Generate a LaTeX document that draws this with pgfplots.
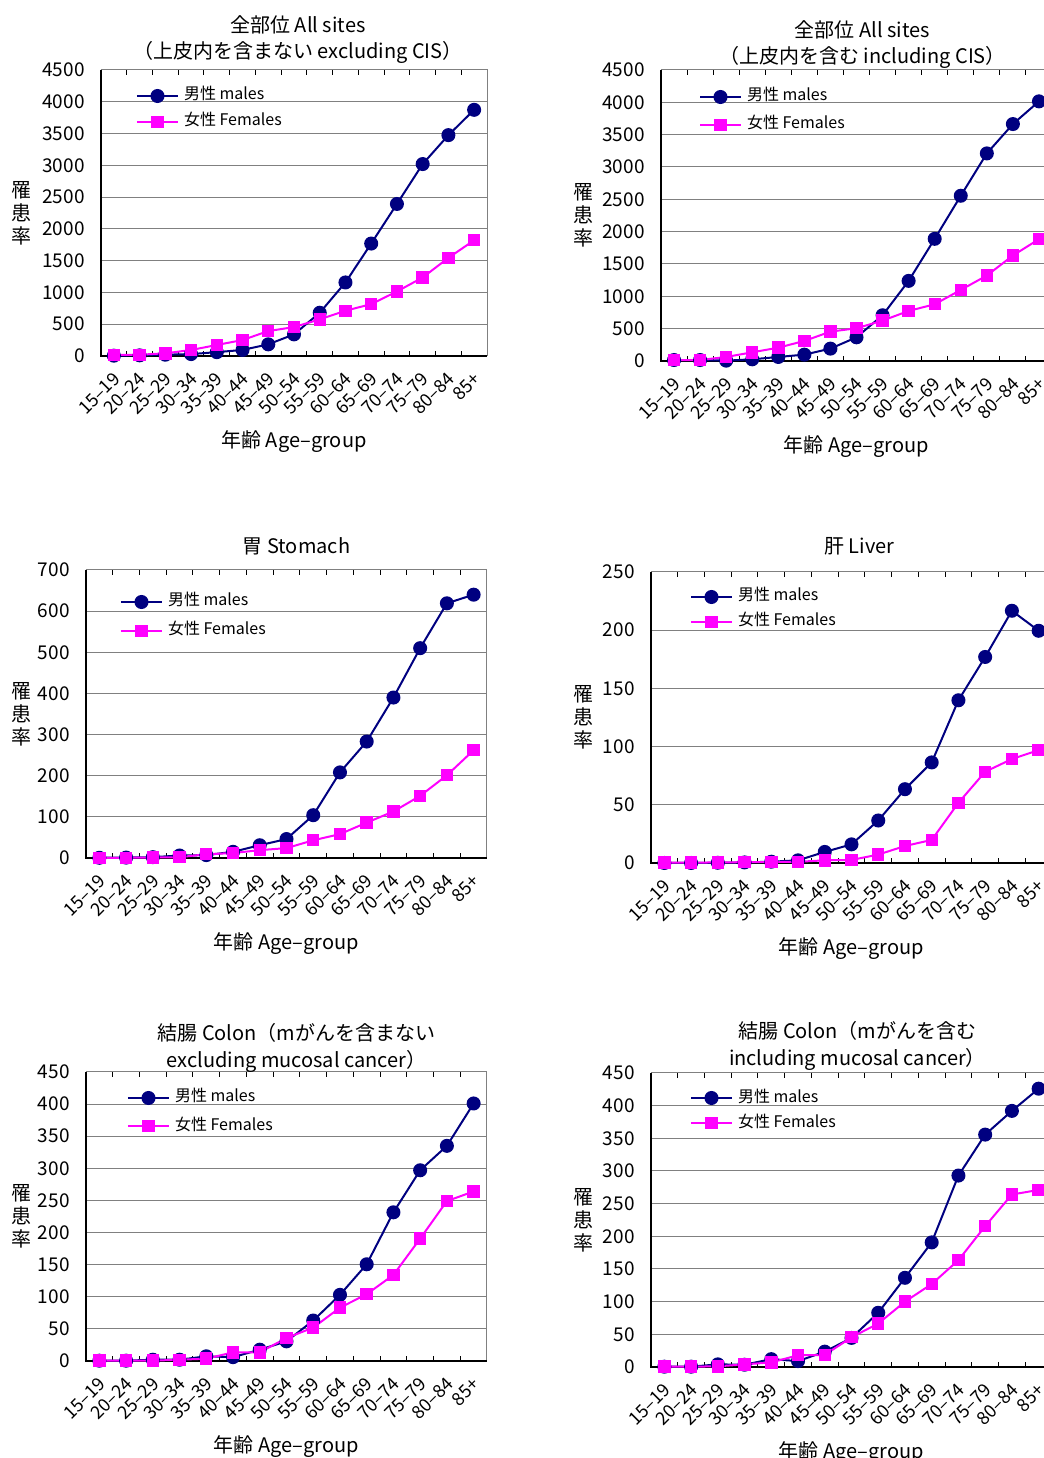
\documentclass[border=0pt]{standalone}
\usepackage{fontspec}
\setmainfont{Noto Sans CJK JP}
\usepackage{pgfplots}
\pgfplotsset{compat=1.18}
\definecolor{mnavy}{RGB}{0,0,128}
\definecolor{mmag}{RGB}{255,0,255}
\newcommand{\fs}[1]{\fontsize{#1}{#1}\selectfont}

\pgfplotsset{
 panel/.style={
  scale only axis, clip=false,
  xmin=-0.5, xmax=14.5, ymin=0,
  xtick={0,...,14},
  xticklabels={15–19,20–24,25–29,30–34,35–39,40–44,45–49,50–54,55–59,60–64,65–69,70–74,75–79,80–84,85+},
  minor x tick num=1,
  major tick length=0pt, minor tick length=2.5pt, tick align=inside,
  minor tick style={black, line width=0.5pt},
  ymajorgrids, major grid style={gray, line width=0.5pt},
  axis line style={draw=none},
  /pgf/number format/assume math mode=true,
  /pgf/number format/1000 sep={},
  x tick label style={font=\fs{9}, inner sep=0pt, xshift=1.5pt, yshift=-10pt, rotate=45, anchor=east},
  y tick label style={font=\fs{9.5}, inner sep=0pt, xshift=-8pt},
  every axis x label/.style={at={(axis description cs:0.5,0)}, anchor=center, yshift=-43pt, font=\fs{10}},
  every axis y label/.style={at={(axis description cs:0,0.5)}, anchor=center, align=center, font=\fontsize{10}{11.5}\selectfont},
  every axis title/.style={at={(axis description cs:0.5,1)}, anchor=south, align=center, inner sep=0pt, font=\fontsize{10}{13}\selectfont},
  xlabel={年齢 Age–group},
  ylabel={罹\\患\\率},
  legend style={draw=none, fill=none, at={(axis description cs:0,1)}, anchor=north west, inner sep=0pt, outer sep=0pt, font=\fs{8}, nodes={inner sep=0pt, text height=5.5pt, text depth=1.5pt}, column sep=2.5pt},
  legend cell align=left,
  legend image code/.code={\draw[mark repeat=2,mark phase=2,##1] plot coordinates {(0pt,0pt) (10.25pt,0pt) (20.5pt,0pt)};},
 },
 males/.style={color=mnavy, line width=1pt, mark=*, mark size=3pt, mark options={solid, fill=mnavy}},
 fem/.style={color=mmag, line width=1pt, mark=square*, mark size=2.6pt, mark options={solid, fill=mmag}},
}
\newcommand{\frameit}{%
  \draw[gray, line width=0.5pt] (rel axis cs:0,1) -- (rel axis cs:1,1) -- (rel axis cs:1,0);
  \draw[black, line width=0.8pt] (rel axis cs:0,1) -- (rel axis cs:0,0) -- (rel axis cs:1,0);}

\begin{document}
\begin{tikzpicture}
% Panel 1
\begin{axis}[panel, at={(50.5pt,694pt)}, anchor=north west, width=193pt, height=143pt,
  ymax=4500, ytick={0,500,...,4500},
  title={全部位 All sites\\（上皮内を含まない excluding CIS）}, title style={xshift=2pt, yshift=3pt},
  ylabel style={xshift=-39.5pt},
  legend style={xshift=17.5pt, yshift=-9.5pt, row sep=6pt}]
\frameit
\addplot[males] coordinates {(0,5) (1,10) (2,20) (3,30) (4,60) (5,95) (6,183) (7,340) (8,680) (9,1157) (10,1769) (11,2392) (12,3020) (13,3475) (14,3873)};
\addplot[fem] coordinates {(0,15) (1,20) (2,42) (3,94) (4,173) (5,251) (6,392) (7,455) (8,576) (9,712) (10,816) (11,1015) (12,1235) (13,1544) (14,1821)};
\legend{男性 males, 女性 Females}
\end{axis}
% Panel 2
\begin{axis}[panel, at={(330.5pt,694pt)}, anchor=north west, width=195.5pt, height=145.5pt,
  ymax=4500, ytick={0,500,...,4500},
  title={全部位 All sites\\（上皮内を含む including CIS）}, title style={xshift=3pt, yshift=0.5pt},
  ylabel style={xshift=-39pt},
  legend style={xshift=19pt, yshift=-10pt, row sep=7pt}]
\frameit
\addplot[males] coordinates {(0,15) (1,15) (2,5) (3,26) (4,62) (5,98) (6,191) (7,366) (8,707) (9,1239) (10,1889) (11,2555) (12,3210) (13,3664) (14,4015)};
\addplot[fem] coordinates {(0,15) (1,15) (2,62) (3,134) (4,206) (5,310) (6,454) (7,506) (8,624) (9,774) (10,877) (11,1099) (12,1321) (13,1631) (14,1884)};
\legend{男性 males, 女性 Females}
\end{axis}
% Panel 3
\begin{axis}[panel, at={(43pt,444pt)}, anchor=north west, width=200.5pt, height=144pt,
  ymax=700, ytick={0,100,...,700},
  title={胃 Stomach}, title style={xshift=5pt, yshift=7pt},
  ylabel style={xshift=-32pt},
  legend style={xshift=17pt, yshift=-12.5pt, row sep=7.5pt}]
\frameit
\addplot[males] coordinates {(0,0.5) (1,1) (2,2) (3,6) (4,7) (5,15) (6,31) (7,46) (8,104) (9,208) (10,283) (11,390) (12,510) (13,619) (14,640)};
\addplot[fem] coordinates {(0,0.3) (1,0.5) (2,1) (3,2) (4,9) (5,12) (6,19) (7,24) (8,43) (9,58) (10,86) (11,113) (12,151) (13,201) (14,262)};
\legend{男性 males, 女性 Females}
\end{axis}
% Panel 4
\begin{axis}[panel, at={(325.5pt,443pt)}, anchor=north west, width=200.5pt, height=145.5pt,
  ymax=250, ytick={0,50,...,250},
  title={肝 Liver}, title style={xshift=4pt, yshift=8pt},
  ylabel style={xshift=-34pt},
  legend style={xshift=19.5pt, yshift=-9pt, row sep=5.5pt}]
\frameit
\addplot[males] coordinates {(0,0) (1,0) (2,0.2) (3,0.5) (4,1.1) (5,2.3) (6,9.5) (7,16) (8,36.5) (9,63.4) (10,86.4) (11,139.8) (12,177) (13,216.7) (14,199.5)};
\addplot[fem] coordinates {(0,0.3) (1,0.3) (2,0.5) (3,0.7) (4,0.8) (5,1.0) (6,2.3) (7,2.6) (8,7.2) (9,14.6) (10,19.8) (11,51.7) (12,78.4) (13,89.3) (14,97)};
\legend{男性 males, 女性 Females}
\end{axis}
% Panel 5
\begin{axis}[panel, at={(43pt,193pt)}, anchor=north west, width=200.5pt, height=144.5pt,
  ymax=450, ytick={0,50,...,450},
  title={結腸 Colon（mがんを含まない\\excluding mucosal cancer）}, title style={xshift=5pt, yshift=-0.5pt, font=\fontsize{10}{13.5}\selectfont},
  ylabel style={xshift=-32pt},
  legend style={xshift=20.5pt, yshift=-9.5pt, row sep=7pt}]
\frameit
\addplot[males] coordinates {(0,0.5) (1,0.5) (2,2) (3,2) (4,7.3) (5,6) (6,17.6) (7,30.6) (8,63) (9,103) (10,150.6) (11,231.5) (12,297) (13,335) (14,401)};
\addplot[fem] coordinates {(0,0.5) (1,0.5) (2,0.5) (3,2) (4,3.6) (5,13.5) (6,13.5) (7,35.8) (8,52) (9,83) (10,104) (11,134) (12,190.6) (13,249) (14,264)};
\legend{男性 males, 女性 Females}
\end{axis}
% Panel 6
\begin{axis}[panel, at={(325.5pt,192.5pt)}, anchor=north west, width=200.5pt, height=147pt,
  ymax=450, ytick={0,50,...,450},
  title={結腸 Colon（mがんを含む\\including mucosal cancer）}, title style={xshift=3pt, yshift=1pt, font=\fontsize{10}{13.5}\selectfont},
  ylabel style={xshift=-34pt},
  legend style={xshift=19.5pt, yshift=-9pt, row sep=5.5pt}]
\frameit
\addplot[males] coordinates {(0,0.5) (1,0.5) (2,4) (3,3.5) (4,12) (5,9) (6,23.5) (7,44.5) (8,83) (9,136.5) (10,190.7) (11,293) (12,355.7) (13,392) (14,426)};
\addplot[fem] coordinates {(0,0.5) (1,0.5) (2,1) (3,4) (4,7) (5,18) (6,18.4) (7,45.5) (8,66.5) (9,100) (10,127) (11,163.5) (12,215.6) (13,264) (14,271)};
\legend{男性 males, 女性 Females}
\end{axis}
\pgfresetboundingbox
\useasboundingbox (0,0) rectangle (522pt,729pt);
\end{tikzpicture}
\end{document}
